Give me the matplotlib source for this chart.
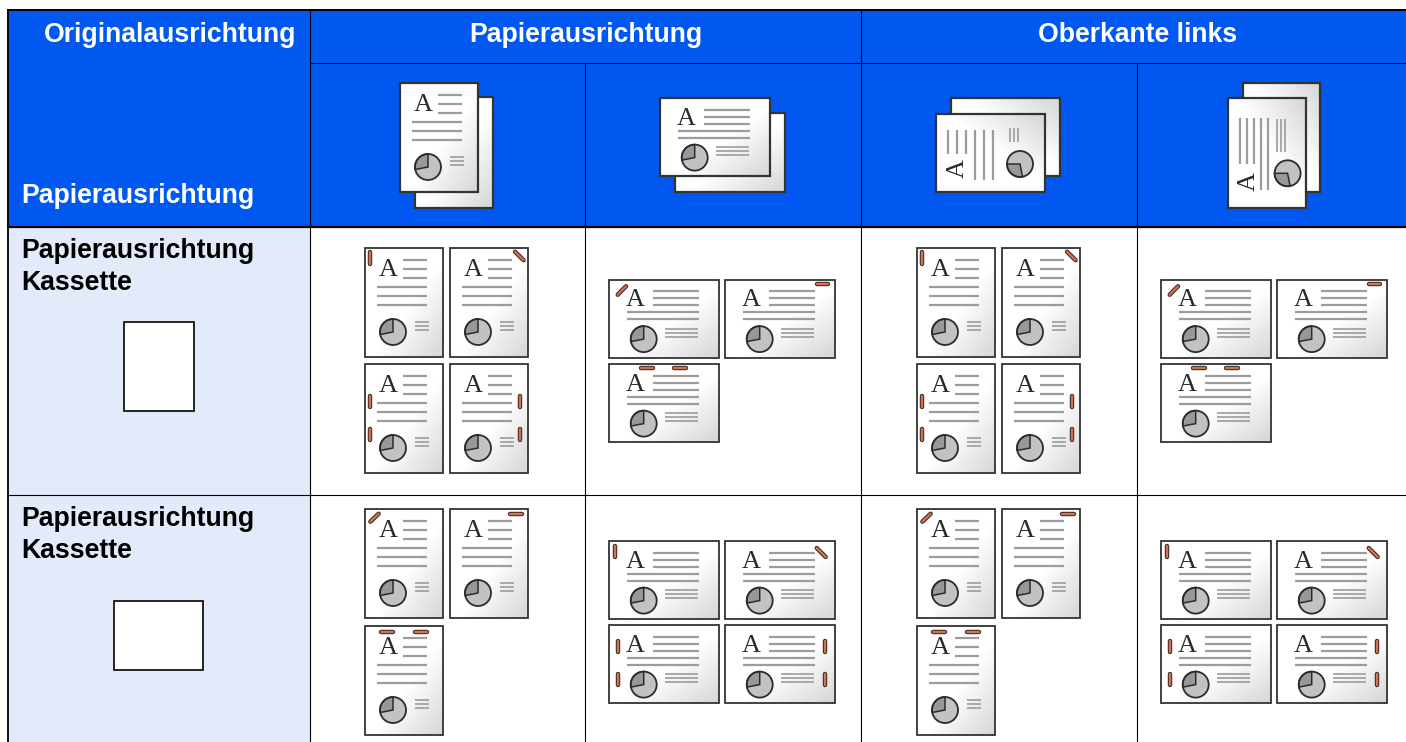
import numpy as np
import matplotlib
matplotlib.use('Agg')
import matplotlib.pyplot as plt
from matplotlib.patches import Circle, Rectangle, Wedge

# Text of the table
corner_top = 'Originalausrichtung'
corner_bottom = 'Papierausrichtung'
group_titles = ['Papierausrichtung', 'Oberkante links']
row_titles = ['Papierausrichtung\nKassette', 'Papierausrichtung\nKassette']

# Staple codes of the small pages, per row
staples_portrait = [['L1', 'D_TR', 'LL', 'RR'], ['D_TL', 'H_TR', 'TT']]
staples_landscape = [['D_TL', 'H_TR', 'TT'], ['L1', 'D_TR', 'LL', 'RR']]

blue = '#0058f0'
light = '#e3ebfa'
dark = '#333333'
gray = '#9c9c9c'

# Staple segments relative to the page corner
P_STAPLES = {
    'L1': [((5.4, 2), (5.4, 17))],
    'D_TR': [((64, 2.7), (74.7, 13.3))],
    'LL': [((5.4, 30), (5.4, 44.5)), ((5.4, 63), (5.4, 77.5))],
    'RR': [((69.7, 30), (69.7, 44.5)), ((69.7, 63), (69.7, 77.5))],
    'D_TL': [((4.3, 13.7), (14.7, 3.7))],
    'H_TR': [((58.7, 4.7), (73, 4.7))],
    'TT': [((14.7, 5.5), (29.5, 5.5)), ((48, 5.5), (63, 5.5))],
}
L_STAPLES = {
    'L1': [((5.7, 3), (5.7, 17.3))],
    'D_TR': [((90.7, 6), (101.7, 17))],
    'LL': [((8.7, 14), (8.7, 28.3)), ((8.7, 47), (8.7, 61.3))],
    'RR': [((100, 14), (100, 28.3)), ((100, 47), (100, 61.3))],
    'D_TL': [((7.7, 16.3), (18, 5.7))],
    'H_TR': [((90, 4.3), (104.7, 4.3))],
    'TT': [((30.3, 4.3), (45, 4.3)), ((63.7, 4.3), (78.3, 4.3))],
}

# Page contents: A (centre, baseline), short lines, long lines, pie, small lines
PORTRAIT = dict(w=78, h=109, a=(23, 27.7), short=(37.7, 61.7, [12, 21, 30]),
                long=(12, 61.7, [39, 48, 57]), pie=(28, 84),
                small=(50, 64, [73.7, 77.7, 81.7]))
LANDSCAPE = dict(w=110, h=78, a=(26.7, 27), short=(44, 90, [11.6, 18.6, 25.6]),
                 long=(17.7, 90, [32.6, 39.6]), pie=(34.7, 59.6),
                 small=(56, 88.7, [49.3, 53.3, 57]))

fig = plt.figure(figsize=(14.06, 7.42), dpi=100)
ax = fig.add_axes([0, 0, 1, 1])
ax.set_xlim(0, 1406)
ax.set_ylim(742, 0)
ax.axis('off')


def page_bg(x, y, w, h, turned=False, z=3, lw=1.3):
    # white page that goes grey towards one corner
    n = 40
    uu, vv = np.meshgrid(np.linspace(0, 1, n), np.linspace(0, 1, n))
    if turned:
        t = np.clip((uu + (1 - vv)) / 2 * 2.2 - 1.2, 0, 1)
    else:
        t = np.clip((uu + vv) / 2 * 2.2 - 1.2, 0, 1)
    c = 1 - t * 0.16
    ax.imshow(c, cmap='gray', vmin=0, vmax=1, extent=(x, x + w, y + h, y),
              interpolation='bilinear', aspect='auto', zorder=z)
    ax.add_patch(Rectangle((x, y), w, h, fc='none', ec=dark, lw=lw, zorder=z + 0.1))


def draw_page(x, y, lay, turned=False, staples=None, staple_set=None, lw=1.3):
    w, h = lay['w'], lay['h']
    if turned:
        # content turned 90 degrees to the left
        page_bg(x, y, h, w, True, lw=lw)
        pt = lambda u, v: (x + v, y + w - u)
    else:
        page_bg(x, y, w, h, lw=lw)
        pt = lambda u, v: (x + u, y + v)

    for key, lwd in (('short', 1.6), ('long', 1.6), ('small', 1.2)):
        u0, u1, vs = lay[key]
        for v in vs:
            p0, p1 = pt(u0, v), pt(u1, v)
            ax.plot([p0[0], p1[0]], [p0[1], p1[1]], color=gray, lw=lwd,
                    solid_capstyle='butt', zorder=5)

    ax_a = pt(*lay['a'])
    ax.text(ax_a[0], ax_a[1], 'A', family='Liberation Serif', fontsize=18.9,
            color='#2a2a2a', ha='center', va='baseline', rotation_mode='anchor',
            rotation=90 if turned else 0, zorder=5)

    cx, cy = pt(*lay['pie'])
    ax.add_patch(Circle((cx, cy), 13, fc='#c2c2c2', ec='none', zorder=5))
    start = 79 if turned else 169
    ax.add_patch(Wedge((cx, cy), 13, start, start + 101, fc='#989898',
                       ec='#2b2b2b', lw=1.1, zorder=6))
    ax.add_patch(Circle((cx, cy), 13, fc='none', ec='#2b2b2b', lw=1.3, zorder=7))

    for code in (staples or []):
        for (p0, p1) in staple_set[code]:
            # measured ends include the round caps
            d = np.array(p1) - np.array(p0)
            cut = d / np.hypot(*d) * 1.5
            xs = [x + p0[0] + cut[0], x + p1[0] - cut[0]]
            ys = [y + p0[1] + cut[1], y + p1[1] - cut[1]]
            ax.plot(xs, ys, color='#3a2b28', lw=3.2, solid_capstyle='round', zorder=8)
            ax.plot(xs, ys, color='#d4714f', lw=1.7, solid_capstyle='round', zorder=9)


# ------------- Table background
ax.add_patch(Rectangle((7, 10), 1399, 217, fc=blue, ec='none', zorder=1))
ax.add_patch(Rectangle((7, 227), 303, 515, fc=light, ec='none', zorder=1))

# ------------- Table lines
line = dict(color='black', solid_capstyle='butt', zorder=2)
ax.plot([7.7, 7.7], [9, 742], lw=1.3, **line)
ax.plot([7, 1406], [10, 10], lw=1.4, **line)
ax.plot([7, 1406], [227, 227], lw=1.6, **line)
ax.plot([310, 1406], [63, 63], lw=0.8, **line)
ax.plot([7, 1406], [495, 495], lw=0.8, **line)
for xc in [310, 861]:
    ax.plot([xc, xc], [10, 742], lw=0.8, **line)
for xc in [585, 1137]:
    ax.plot([xc, xc], [63, 742], lw=0.8, **line)

# ------------- Header text
label = dict(family='Liberation Sans', fontweight='bold', fontsize=19.2, va='baseline')
ax.text(170, 41.7, corner_top, color='white', ha='center', **label)
ax.text(21, 203, corner_bottom, color='white', ha='left', **label)
ax.text(586, 41.7, group_titles[0], color='white', ha='center', **label)
ax.text(1138, 41.7, group_titles[1], color='white', ha='center', **label)

# ------------- Row labels and paper boxes
for title, base in zip(row_titles, [258, 526]):
    first, second = title.split('\n')
    ax.text(21, base, first, color='black', ha='left', **label)
    ax.text(21, base + 32, second, color='black', ha='left', **label)
ax.add_patch(Rectangle((124, 322), 70, 89, fc='white', ec='black', lw=1.2, zorder=3))
ax.add_patch(Rectangle((114, 601), 89, 69, fc='white', ec='black', lw=1.2, zorder=3))

# ------------- Header pages, the back one stays empty
page_bg(415, 97, 78, 111, z=2.5, lw=1.6)
draw_page(400, 83, PORTRAIT, lw=1.6)
page_bg(675, 113, 110, 79, z=2.5, lw=1.6)
draw_page(660, 98, LANDSCAPE, lw=1.6)
page_bg(951, 98, 109, 78, turned=True, z=2.5, lw=1.6)
draw_page(936, 114, PORTRAIT, turned=True, lw=1.6)
page_bg(1243, 83, 77, 109, turned=True, z=2.5, lw=1.6)
draw_page(1228, 98, LANDSCAPE, turned=True, lw=1.6)

# ------------- Small stapled pages
p_rows = [[(0, 248), (85, 248), (0, 364), (85, 364)], [(0, 509), (85, 509), (0, 626)]]
l_rows = [[(0, 279.5), (116, 279.5), (0, 364)], [(0, 541), (116, 541), (0, 625), (116, 625)]]

for x0 in [365, 917]:
    for cells, codes in zip(p_rows, staples_portrait):
        for (dx, y0), code in zip(cells, codes):
            draw_page(x0 + dx, y0, PORTRAIT, staples=[code], staple_set=P_STAPLES)

for x0 in [609, 1161]:
    for cells, codes in zip(l_rows, staples_landscape):
        for (dx, y0), code in zip(cells, codes):
            draw_page(x0 + dx, y0, LANDSCAPE, staples=[code], staple_set=L_STAPLES)

ax.set_xlim(0, 1406)
ax.set_ylim(742, 0)

plt.savefig('out.png', dpi=100)
